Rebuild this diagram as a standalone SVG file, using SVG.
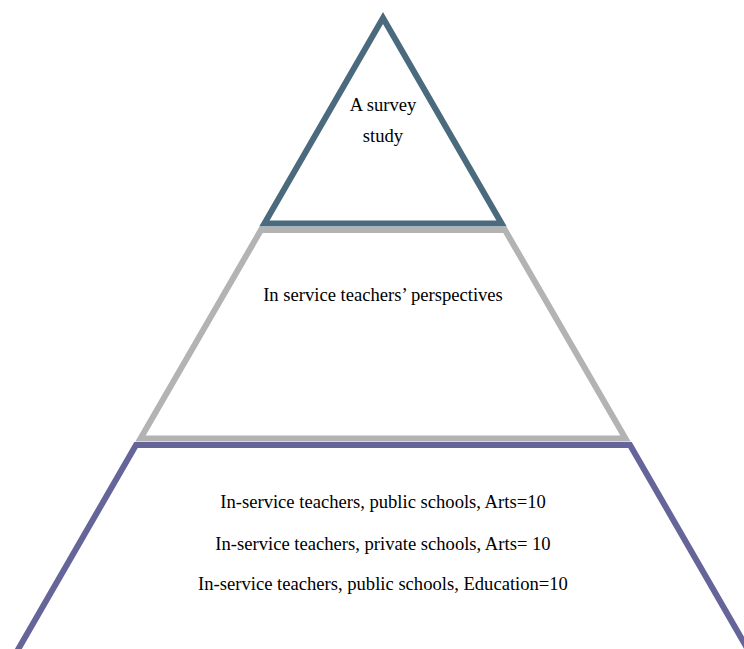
<svg xmlns="http://www.w3.org/2000/svg" width="744" height="649" viewBox="0 0 744 649">
<style>
.t{font-family:"Liberation Serif","Times New Roman",serif;font-size:18.6px;fill:#000;text-anchor:middle}
.s{fill:#fff;stroke-width:6;stroke-linejoin:miter;stroke-miterlimit:10}
</style>
<rect width="744" height="649" fill="#fff"/>
<g id="bottom">
<polygon class="s" stroke="#65659a" points="136,445 630,445 754,660 12,660"/>
<text class="t" x="383" y="508">In-service teachers, public schools, Arts=10</text>
<text class="t" x="383" y="550">In-service teachers, private schools, Arts= 10</text>
<text class="t" x="383" y="590">In-service teachers, public schools, Education=10</text>
</g>
<g id="middle">
<polygon class="s" stroke="#b3b3b3" points="261,230 505,230 625.5,438.5 140.5,438.5"/>
<text class="t" x="383" y="301">In service teachers’ perspectives</text>
</g>
<g id="top">
<polygon class="s" stroke="#4b6a7d" points="383,18 501.6,223.5 264.4,223.5"/>
<text class="t" x="383" y="111">A survey</text>
<text class="t" x="383" y="142">study</text>
</g>
<g id="connectors"/>
</svg>
